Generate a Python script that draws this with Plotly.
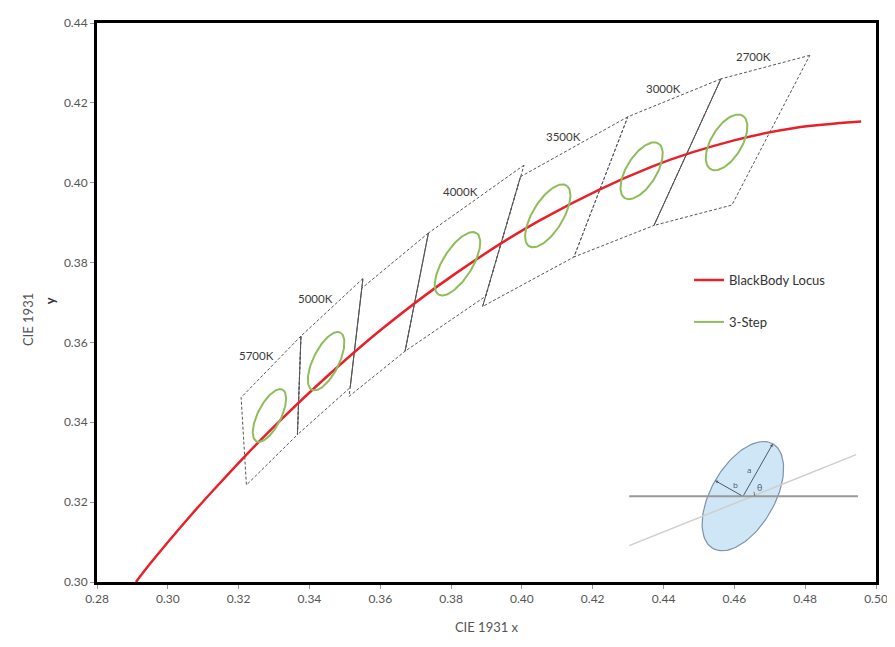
import numpy as np
import plotly.graph_objects as go

# ---------------- data ----------------
x_ticks = [0.28, 0.30, 0.32, 0.34, 0.36, 0.38, 0.40, 0.42, 0.44, 0.46, 0.48, 0.50]
y_ticks = [0.30, 0.32, 0.34, 0.36, 0.38, 0.40, 0.42, 0.44]

# Black body locus
locus_x = [0.2910, 0.2952, 0.3064, 0.3135, 0.3221, 0.3325, 0.3451, 0.3608,
           0.3805, 0.4053, 0.4369, 0.4599, 0.4770, 0.4958]
locus_y = [0.3000, 0.3048, 0.3166, 0.3236, 0.3318, 0.3411, 0.3516, 0.3636,
           0.3768, 0.3907, 0.4041, 0.4106, 0.4137, 0.4153]

# Quadrangles (corners: top-right, top-left, bottom-left, bottom-right)
quad_names = ["5700K", "5000K", "4500K", "4000K", "3500K", "3000K", "2700K"]
quad_x = [[0.3376, 0.3207, 0.3222, 0.3366],
          [0.3551, 0.3376, 0.3366, 0.3515],
          [0.3736, 0.3548, 0.3512, 0.3670],
          [0.4006, 0.3736, 0.3670, 0.3898],
          [0.4299, 0.3996, 0.3889, 0.4147],
          [0.4562, 0.4299, 0.4147, 0.4373],
          [0.4813, 0.4562, 0.4373, 0.4593]]
quad_y = [[0.3616, 0.3462, 0.3243, 0.3369],
          [0.3760, 0.3616, 0.3369, 0.3487],
          [0.3874, 0.3736, 0.3465, 0.3578],
          [0.4044, 0.3874, 0.3578, 0.3716],
          [0.4165, 0.4015, 0.3690, 0.3814],
          [0.4260, 0.4165, 0.3814, 0.3893],
          [0.4319, 0.4260, 0.3893, 0.3944]]
# edges drawn solid: (quad index, corner i, corner j)
solid_edges = [(1, 1, 2), (1, 0, 3), (3, 1, 2), (4, 1, 2), (6, 1, 2)]

# Label positions for quadrangles
label_names = ["5700K", "5000K", "4000K", "3500K", "3000K", "2700K"]
label_x = [0.3250, 0.3416, 0.3826, 0.4118, 0.4399, 0.4655]
label_y = [0.3567, 0.3711, 0.3978, 0.4116, 0.4235, 0.4317]

# 3-step MacAdam ellipses
ell_x = [0.3287, 0.3447, 0.3818, 0.4073, 0.4338, 0.4578]
ell_y = [0.3417, 0.3553, 0.3797, 0.3917, 0.4030, 0.4101]
ell_a = [0.00746, 0.00822, 0.00939, 0.00927, 0.00834, 0.00810]
ell_b = [0.00320, 0.00354, 0.00402, 0.00414, 0.00408, 0.00420]
ell_theta = [59.1, 59.6, 53.7, 54.0, 53.2, 53.7]

# Inset diagram (centre in data units, sizes in screen pixels)
inset_cx, inset_cy = 0.4624, 0.3215
inset_a_px, inset_b_px, inset_angle = 61, 32, 60.5
inset_hline_x = [0.4303, 0.4949]
inset_slant_x = [0.4303, 0.4944]
inset_slant_y = [0.3091, 0.3319]

# ---------------- layout geometry ----------------
# page body has an 8px margin; the figure is sized so that the plot box lands
# at x 97..880, y 15..582 of the 895x647 window
W, H = 887, 639
ML, MR, MT, MB = 89, 15, 7, 65
pw, ph = W - ML - MR, H - MT - MB
sx = (x_ticks[-1] - x_ticks[0]) / pw   # data per px
sy = (y_ticks[-1] - y_ticks[0]) / ph

fig = go.Figure()

# quadrangles (dashed)
qx, qy = [], []
for xs, ys in zip(quad_x, quad_y):
    qx += xs + [xs[0], None]
    qy += ys + [ys[0], None]
fig.add_trace(go.Scatter(x=qx, y=qy, mode="lines", showlegend=False, hoverinfo="skip",
                         line=dict(color="#555555", width=1, dash="3px,2px")))
sxl, syl = [], []
for q, i, j in solid_edges:
    sxl += [quad_x[q][i], quad_x[q][j], None]
    syl += [quad_y[q][i], quad_y[q][j], None]
fig.add_trace(go.Scatter(x=sxl, y=syl, mode="lines", showlegend=False, hoverinfo="skip",
                         line=dict(color="#555555", width=1)))

# black body locus
fig.add_trace(go.Scatter(x=locus_x, y=locus_y, mode="lines", name="BlackBody Locus",
                         legendgroup="a", line=dict(color="#e8202a", width=2.5, shape="spline")))

# ellipses
t = np.linspace(0, 2 * np.pi, 120)
ex, ey = [], []
for cx, cy, a, b, th in zip(ell_x, ell_y, ell_a, ell_b, ell_theta):
    r = np.radians(th)
    ex += list(cx + a * np.cos(t) * np.cos(r) - b * np.sin(t) * np.sin(r)) + [None]
    ey += list(cy + a * np.cos(t) * np.sin(r) + b * np.sin(t) * np.cos(r)) + [None]
fig.add_trace(go.Scatter(x=ex, y=ey, mode="lines", name="3-Step", legendgroup="b",
                         line=dict(color="#8fbd5c", width=2)))

# inset diagram
r = np.radians(inset_angle)
px_dx = inset_a_px * np.cos(t) * np.cos(r) - inset_b_px * np.sin(t) * np.sin(r)
px_dy = inset_a_px * np.cos(t) * np.sin(r) + inset_b_px * np.sin(t) * np.cos(r)
fig.add_trace(go.Scatter(x=inset_cx + px_dx * sx, y=inset_cy + px_dy * sy, mode="lines",
                         fill="toself", fillcolor="#cfe6f7", showlegend=False, hoverinfo="skip",
                         line=dict(color="#7f92a8", width=1.2)))
fig.add_trace(go.Scatter(x=inset_slant_x, y=inset_slant_y, mode="lines", showlegend=False,
                         hoverinfo="skip", line=dict(color="#cfcfcf", width=1.5)))
fig.add_trace(go.Scatter(x=inset_hline_x, y=[inset_cy, inset_cy], mode="lines", showlegend=False,
                         hoverinfo="skip", line=dict(color="#999999", width=2)))
# theta arc
arc = np.radians(np.linspace(0, 22, 12))
fig.add_trace(go.Scatter(x=inset_cx + 12 * np.cos(arc) * sx, y=inset_cy + 12 * np.sin(arc) * sy,
                         mode="lines", showlegend=False, hoverinfo="skip",
                         line=dict(color="#777777", width=1)))

annotations = []
# arrows a and b
a_tip = (inset_cx + inset_a_px * np.cos(r) * sx, inset_cy + inset_a_px * np.sin(r) * sy)
b_tip = (inset_cx - inset_b_px * np.sin(r) * sx, inset_cy + inset_b_px * np.cos(r) * sy)
for tip, lab, off in [(a_tip, "a", (-14, 0)), (b_tip, "b", (10, 6))]:
    dxp = (inset_cx - tip[0]) / sx
    dyp = -(inset_cy - tip[1]) / sy
    annotations.append(dict(x=tip[0], y=tip[1], ax=dxp, ay=dyp, xref="x", yref="y",
                            showarrow=True, arrowhead=2, arrowsize=0.6, arrowwidth=1,
                            arrowcolor="#4a5a6a", text=""))
    annotations.append(dict(x=(tip[0] + inset_cx) / 2, y=(tip[1] + inset_cy) / 2,
                            xshift=off[0] * 0.6, yshift=off[1] * 0.6, text=lab, showarrow=False,
                            font=dict(size=8, color="#4a5a6a")))
annotations.append(dict(x=inset_cx + 17 * sx, y=inset_cy + 9 * sy, text="θ", showarrow=False,
                        font=dict(size=9, color="#4a5a6a")))

for name, lx, ly in zip(label_names, label_x, label_y):
    annotations.append(dict(x=lx, y=ly, text=name, showarrow=False,
                            font=dict(size=11.5, color="#3a3a3a", family="Lato")))

# y-axis title pieces
annotations.append(dict(xref="paper", yref="paper", x=-70 / pw, y=(582 - 316) / ph,
                        xanchor="center", yanchor="middle",
                        text="CIE 1931", textangle=-90, showarrow=False,
                        font=dict(size=13, color="#555555", family="Lato")))
annotations.append(dict(xref="paper", yref="paper", x=-47 / pw, y=(582 - 297) / ph,
                        xanchor="center", yanchor="middle",
                        text="<b>y</b>", textangle=-90, showarrow=False,
                        font=dict(size=13, color="#333333", family="Lato")))

axis_common = dict(showgrid=False, zeroline=False, showline=True, linecolor="black",
                   linewidth=3, mirror=True, ticks="outside", ticklen=4, tickcolor="#999999",
                   tickfont=dict(size=12, color="#555555", family="Lato"))

fig.update_layout(
    width=W, height=H, margin=dict(l=ML, r=MR, t=MT, b=MB),
    plot_bgcolor="white", paper_bgcolor="white",
    xaxis=dict(range=[x_ticks[0], x_ticks[-1]], tickvals=x_ticks,
               ticktext=[f"{v:.2f}" for v in x_ticks],
               title=dict(text="CIE 1931 x", font=dict(size=13, color="#555555", family="Lato"),
                          standoff=18), **axis_common),
    yaxis=dict(range=[y_ticks[0], y_ticks[-1]], tickvals=y_ticks,
               ticktext=[f"{v:.2f}" for v in y_ticks], **axis_common),
    legend=dict(x=0.760, y=0.567, xanchor="left", yanchor="top", traceorder="grouped",
                tracegroupgap=22, bgcolor="rgba(0,0,0,0)", itemwidth=30,
                font=dict(size=13, color="#333333", family="Lato")),
    annotations=annotations,
)

fig.write_html("out.html")
